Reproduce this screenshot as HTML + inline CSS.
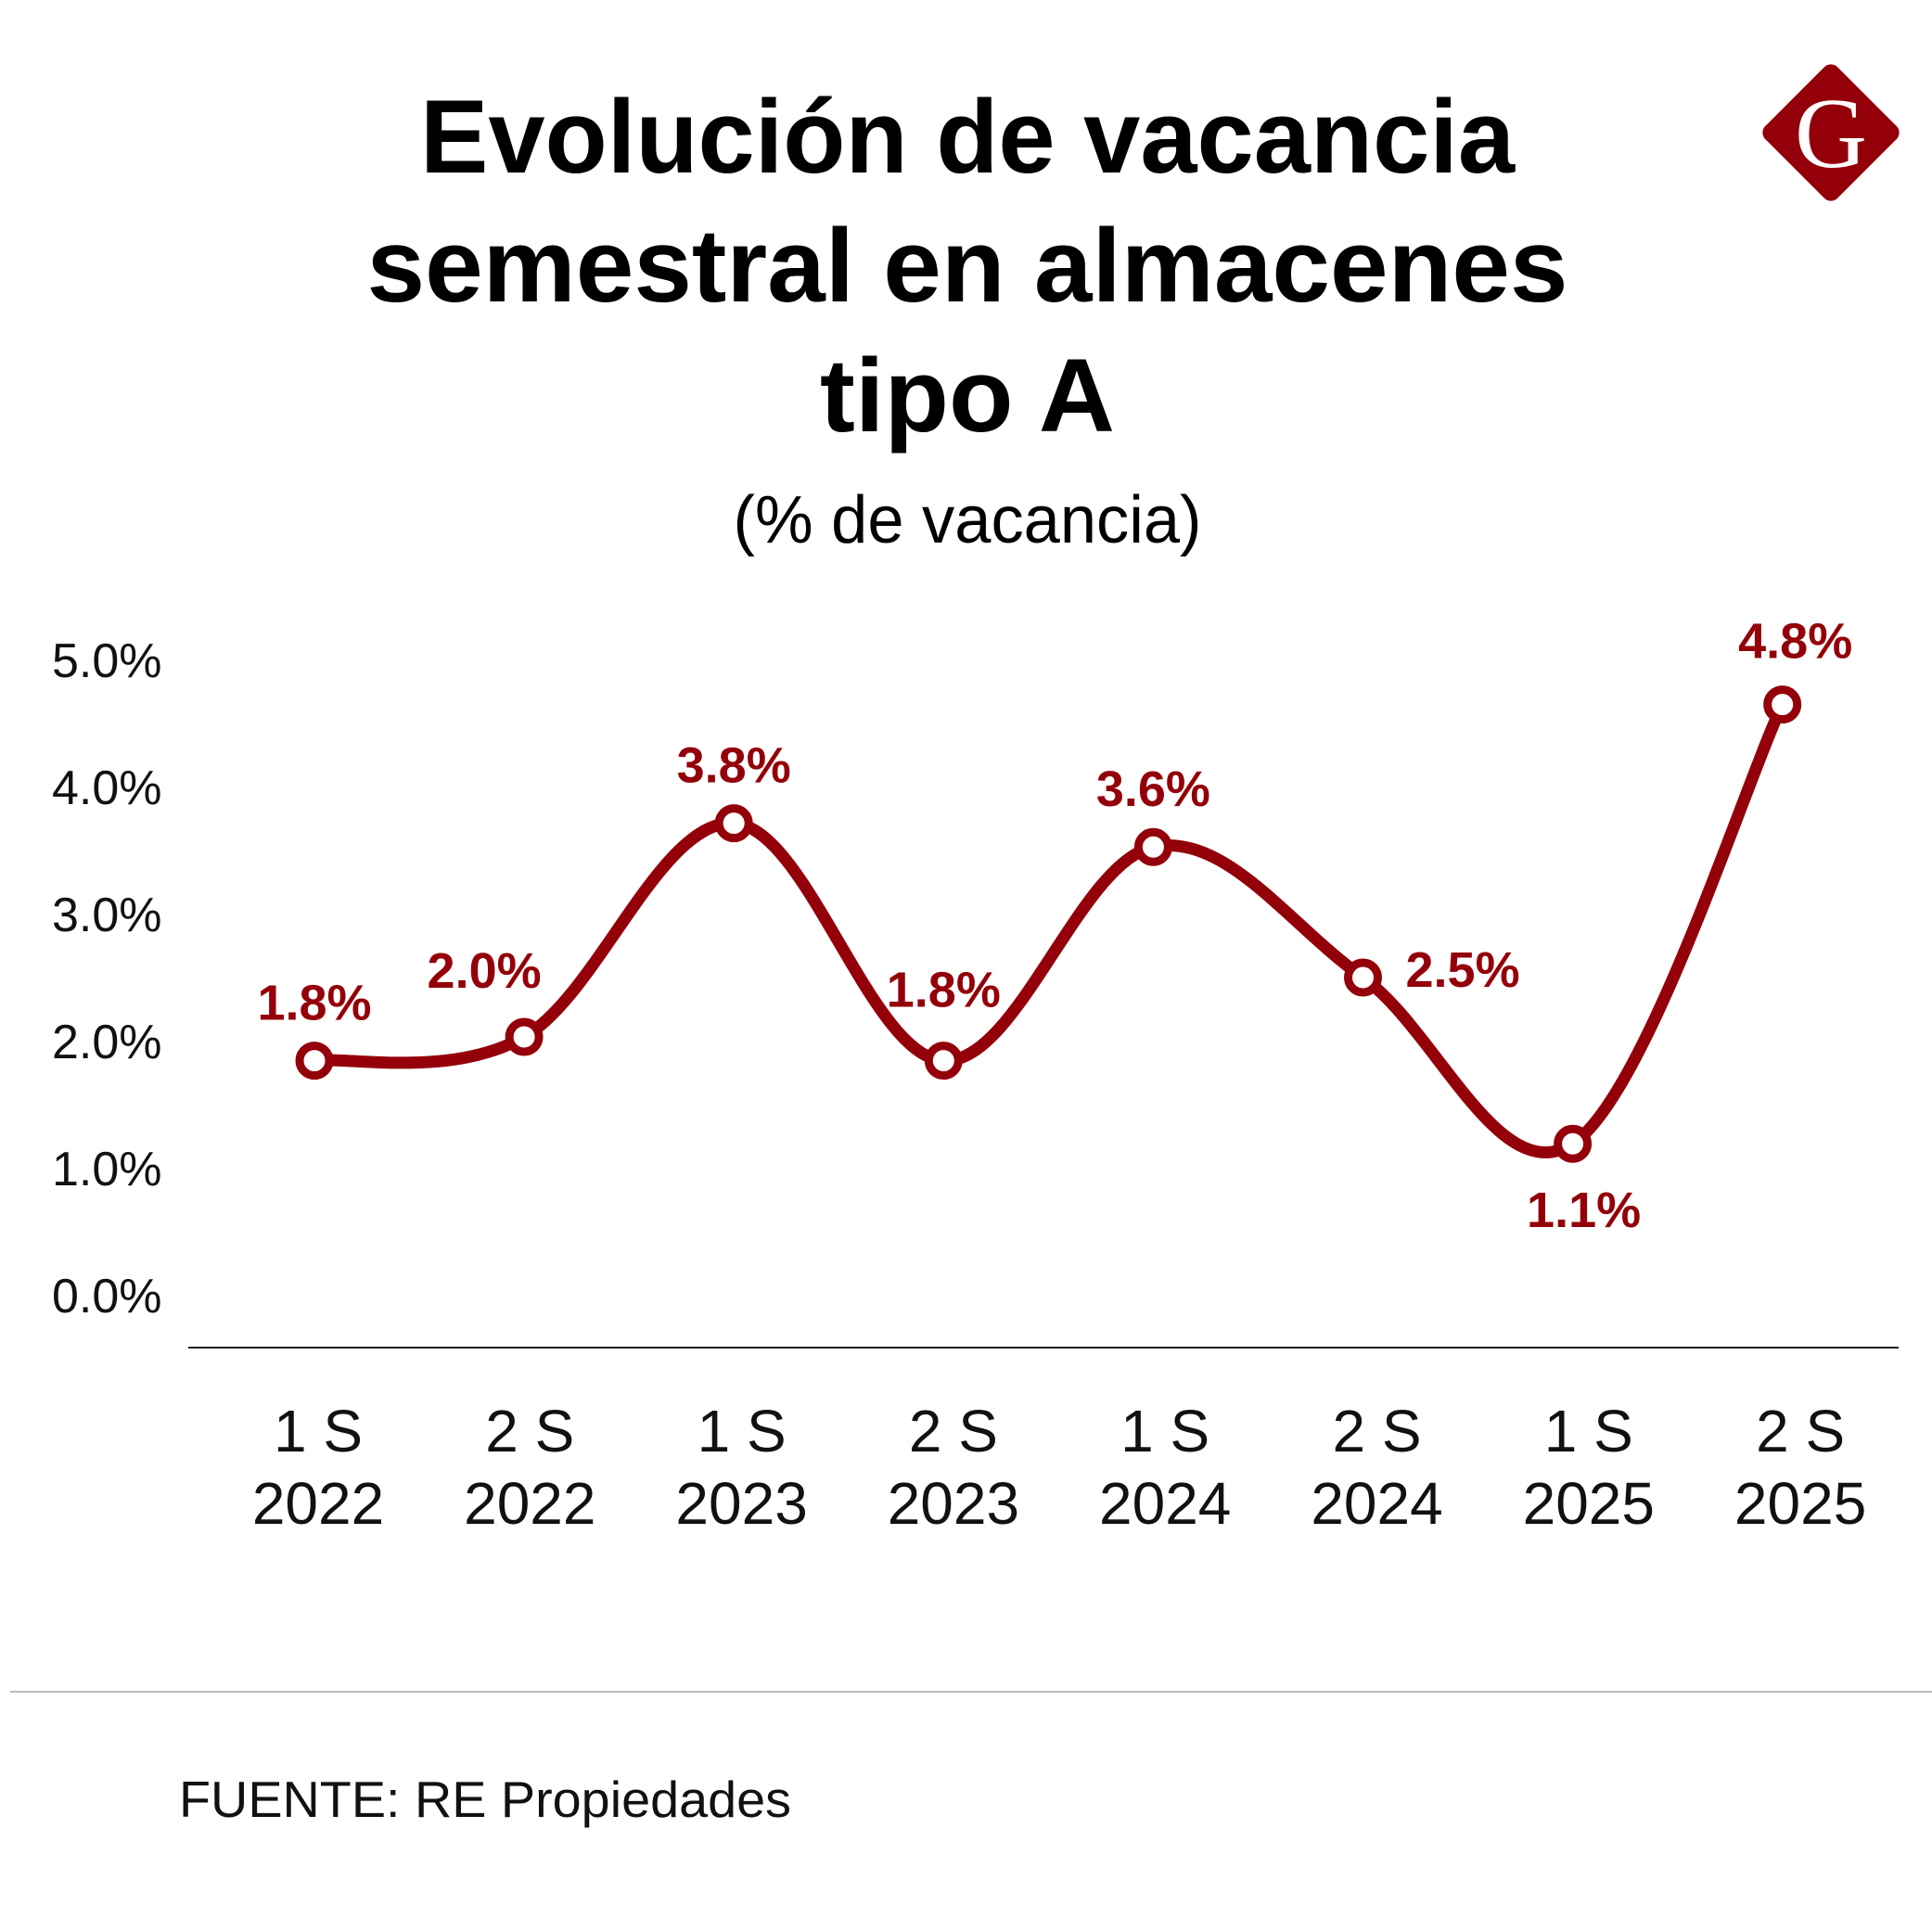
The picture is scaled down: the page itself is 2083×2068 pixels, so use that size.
<!DOCTYPE html>
<html><head><meta charset="utf-8"><style>
html,body{margin:0;padding:0;background:#fff;}
svg{display:block;}
</style></head><body>
<svg id="chart" width="2083" height="2068" viewBox="0 0 2083 2068" xmlns="http://www.w3.org/2000/svg">
<rect width="2083" height="2068" fill="#fff"/>
<g font-family="Liberation Sans, sans-serif" font-weight="bold" fill="#000" text-anchor="middle">
<text x="1043" y="186" font-size="112" textLength="1180" lengthAdjust="spacingAndGlyphs">Evolución de vacancia</text>
<text x="1043" y="325" font-size="112" textLength="1295" lengthAdjust="spacingAndGlyphs">semestral en almacenes</text>
<text x="1043" y="465" font-size="112" textLength="318" lengthAdjust="spacingAndGlyphs">tipo A</text>
</g>
<text x="1043" y="585" font-family="Liberation Sans, sans-serif" font-size="72" text-anchor="middle" textLength="505" lengthAdjust="spacingAndGlyphs">(% de vacancia)</text>
<g>
<rect x="1919" y="88" width="110" height="110" rx="10" fill="#940009" transform="rotate(45 1974 143)"/>
<text x="1974" y="180" font-family="Liberation Serif, serif" font-size="108" fill="#fff" text-anchor="middle">G</text>
</g>
<g id="yticks"></g>
<line x1="203" y1="1453" x2="2047" y2="1453" stroke="#222" stroke-width="2"/>
<g id="xticks"></g>
<g id="series"></g>
<line x1="11" y1="1824" x2="2083" y2="1824" stroke="#bbb" stroke-width="2"/>
<text x="193" y="1959" font-family="Liberation Sans, sans-serif" font-size="55" fill="#111" textLength="660" lengthAdjust="spacingAndGlyphs">FUENTE: RE Propiedades</text>
</svg>
<script>
const categoriesTop = ["1 S","2 S","1 S","2 S","1 S","2 S","1 S","2 S"];
const categoriesYear = ["2022","2022","2023","2023","2024","2024","2025","2025"];
const values = [1.8, 2.0, 3.8, 1.8, 3.6, 2.5, 1.1, 4.8];
const valueLabels = ["1.8%","2.0%","3.8%","1.8%","3.6%","2.5%","1.1%","4.8%"];
const labelSide = ["above","above-left","above","above","above","right","below","above"];
const yTicks = [0,1,2,3,4,5];
const yTickLabels = ["0.0%","1.0%","2.0%","3.0%","4.0%","5.0%"];

const NS = "http://www.w3.org/2000/svg";
const RED = "#940009";
function xPt(i){ return 339 + i * 226.1; }
function xLab(i){ return 343 + i * 228.3; }
function yData(v){ return 1374 - v * 128; }
function yTick(v){ return 1397 - v * 137; }
function mk(tag, attrs, parent){
  const e = document.createElementNS(NS, tag);
  for (const k in attrs) e.setAttribute(k, attrs[k]);
  parent.appendChild(e); return e;
}
const yG = document.getElementById('yticks');
yTicks.forEach((t,i)=>{
  const el = mk('text',{x:56,y:yTick(t)+18,'font-family':'Liberation Sans, sans-serif','font-size':52,fill:'#111'},yG);
  
  
  el.textContent = yTickLabels[i];
});
const xG = document.getElementById('xticks');
categoriesTop.forEach((c,i)=>{
  const a = mk('text',{x:xLab(i),y:1565,'font-family':'Liberation Sans, sans-serif','font-size':64,fill:'#111','text-anchor':'middle'},xG);
  
  
  a.textContent = c;
  const b = mk('text',{x:xLab(i),y:1643,'font-family':'Liberation Sans, sans-serif','font-size':64,fill:'#111','text-anchor':'middle'},xG);
  
  
  b.textContent = categoriesYear[i];
});
const sG = document.getElementById('series');
const pts = values.map((v,i)=>[xPt(i), yData(v)]);
let d = `M${pts[0][0]},${pts[0][1]}`;
const tension = 0.35;
for (let i=0;i<pts.length-1;i++){
  const p0 = pts[Math.max(0,i-1)], p1 = pts[i], p2 = pts[i+1], p3 = pts[Math.min(pts.length-1,i+2)];
  const c1x = p1[0] + (p2[0]-p0[0])*tension/2, c1y = p1[1] + (p2[1]-p0[1])*tension/2;
  const c2x = p2[0] - (p3[0]-p1[0])*tension/2, c2y = p2[1] - (p3[1]-p1[1])*tension/2;
  d += ` C${c1x},${c1y} ${c2x},${c2y} ${p2[0]},${p2[1]}`;
}
const line = mk('path',{d:d,fill:'none',stroke:RED,'stroke-width':13,'stroke-linejoin':'round','stroke-linecap':'round'},sG);


pts.forEach((p,i)=>{
  const c = mk('circle',{cx:p[0],cy:p[1],r:16,fill:'#fff',stroke:RED,'stroke-width':9},sG);
  
  
  let lx = p[0], ly = p[1] - 44, anchor = 'middle';
  if (labelSide[i]==='above-left'){ lx = p[0]-43; ly = p[1]-53; }
  if (labelSide[i]==='right'){ lx = p[0]+46; ly = p[1]+10; anchor='start'; }
  if (labelSide[i]==='below'){ lx = p[0]+12; ly = p[1]+90; }
  if (i===3){ ly = p[1]-58; }
  if (i===7){ lx = p[0]+14; ly = p[1]-50; }
  const t = mk('text',{x:lx,y:ly,'font-family':'Liberation Sans, sans-serif','font-weight':'bold','font-size':54,fill:RED,'text-anchor':anchor},sG);
  
  
  t.textContent = valueLabels[i];
});
</script>
</body></html>
